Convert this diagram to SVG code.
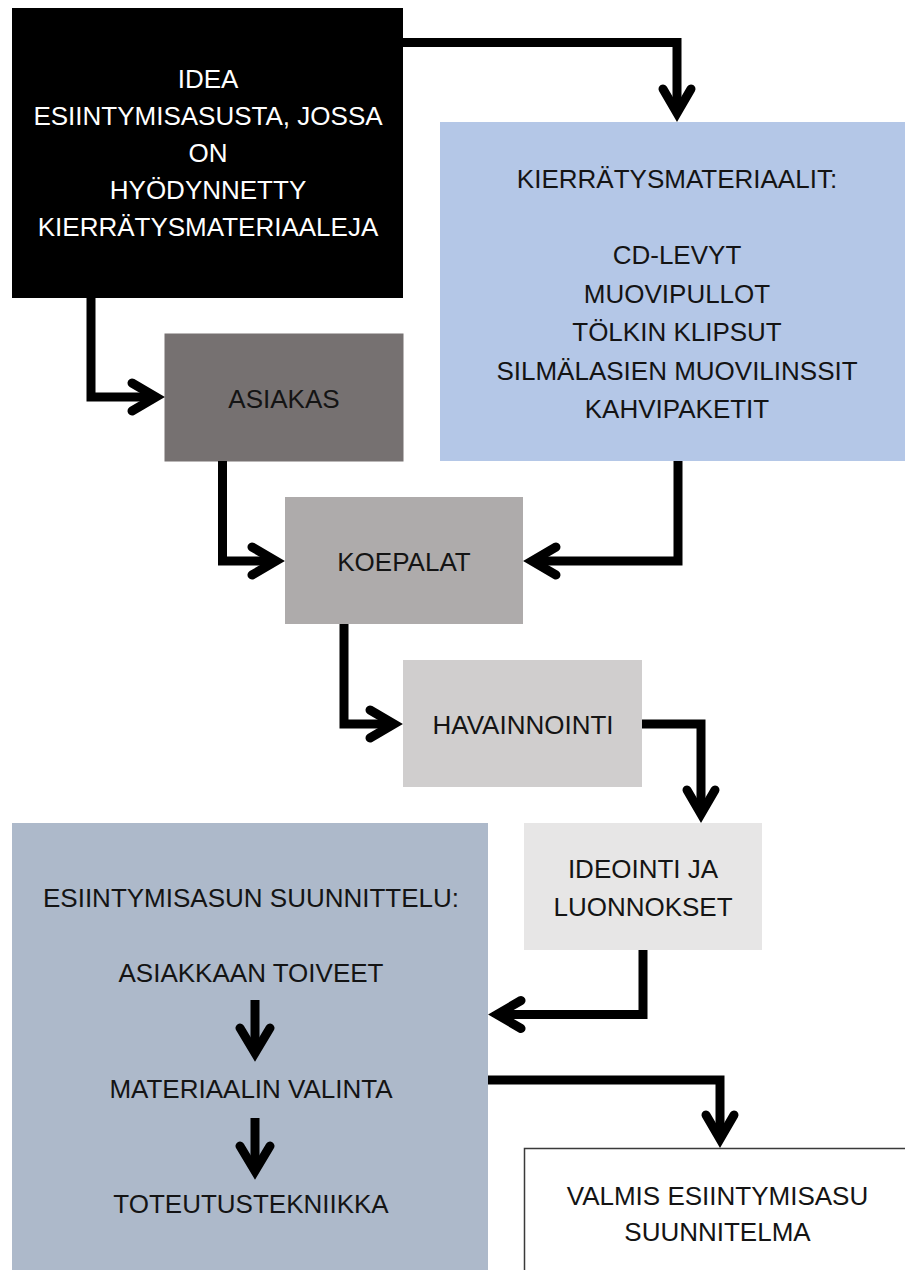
<svg xmlns="http://www.w3.org/2000/svg" width="905" height="1270" viewBox="0 0 905 1270">
  <style>
    .lbl { font-family: "Liberation Sans", Arial, sans-serif; font-size: 26px; fill: #141414; text-anchor: middle; }
    .wht { fill: #ffffff; }
    .conn { fill: none; stroke: #000; stroke-width: 9; stroke-linejoin: miter; stroke-linecap: butt; }
    .head { fill: none; stroke: #000; stroke-width: 9; stroke-linejoin: miter; stroke-miterlimit: 6; stroke-linecap: round; }
  </style>
  <rect width="905" height="1270" fill="#ffffff"/>

  <g id="node-idea">
    <rect x="12" y="8" width="391" height="290" fill="#000000"/>
    <text class="lbl wht" x="208" y="88">IDEA</text>
    <text class="lbl wht" x="208" y="124.5">ESIINTYMISASUSTA, JOSSA</text>
    <text class="lbl wht" x="208" y="162">ON</text>
    <text class="lbl wht" x="208" y="199">HYÖDYNNETTY</text>
    <text class="lbl wht" x="208" y="236">KIERRÄTYSMATERIAALEJA</text>
  </g>

  <g id="node-kierratys">
    <rect x="440" y="122" width="465" height="339" fill="#b4c7e7"/>
    <text class="lbl" x="677" y="188">KIERRÄTYSMATERIAALIT:</text>
    <text class="lbl" x="677" y="264">CD-LEVYT</text>
    <text class="lbl" x="677" y="303">MUOVIPULLOT</text>
    <text class="lbl" x="677" y="341">TÖLKIN KLIPSUT</text>
    <text class="lbl" x="677" y="380">SILMÄLASIEN MUOVILINSSIT</text>
    <text class="lbl" x="677" y="418">KAHVIPAKETIT</text>
  </g>

  <g id="node-asiakas">
    <rect x="164.5" y="333.5" width="239" height="128" fill="#767171"/>
    <text class="lbl" x="284" y="408">ASIAKAS</text>
  </g>

  <g id="node-koepalat">
    <rect x="285" y="497" width="238" height="127" fill="#aeabab"/>
    <text class="lbl" x="404" y="571">KOEPALAT</text>
  </g>

  <g id="node-havainnointi">
    <rect x="403" y="660" width="239" height="127" fill="#d0cece"/>
    <text class="lbl" x="523" y="734">HAVAINNOINTI</text>
  </g>

  <g id="node-ideointi">
    <rect x="524" y="823" width="238" height="127" fill="#e7e6e6"/>
    <text class="lbl" x="643" y="878">IDEOINTI JA</text>
    <text class="lbl" x="643" y="916">LUONNOKSET</text>
  </g>

  <g id="node-suunnittelu">
    <rect x="12" y="823" width="476" height="447" fill="#adb9ca"/>
    <text class="lbl" x="251" y="907">ESIINTYMISASUN SUUNNITTELU:</text>
    <text class="lbl" x="251" y="982">ASIAKKAAN TOIVEET</text>
    <text class="lbl" x="251" y="1098">MATERIAALIN VALINTA</text>
    <text class="lbl" x="251" y="1213">TOTEUTUSTEKNIIKKA</text>
    <path class="conn" d="M255 1000 V1053"/>
    <polyline class="head" points="240,1028 255,1053 270,1028"/>
    <path class="conn" d="M255 1118 V1171"/>
    <polyline class="head" points="240,1146 255,1171 270,1146"/>
  </g>

  <g id="node-valmis">
    <rect x="524.5" y="1148.5" width="400" height="140" fill="#ffffff" stroke="#3a3a3a" stroke-width="1.5"/>
    <text class="lbl" x="717.5" y="1205">VALMIS ESIINTYMISASU</text>
    <text class="lbl" x="717.5" y="1241">SUUNNITELMA</text>
  </g>

  <g id="connectors">
    <path class="conn" d="M403 42.5 H677 V113"/>
    <polyline class="head" points="663,89 677,113 691,89"/>

    <path class="conn" d="M91 298 V397 H156"/>
    <polyline class="head" points="132,383 156,397 132,411"/>

    <path class="conn" d="M222.5 461 V561 H276"/>
    <polyline class="head" points="252,547 276,561 252,575"/>

    <path class="conn" d="M678 461 V561 H532"/>
    <polyline class="head" points="556,547 532,561 556,575"/>

    <path class="conn" d="M344 624 V724 H394"/>
    <polyline class="head" points="370,710 394,724 370,738"/>

    <path class="conn" d="M642 724 H701 V814"/>
    <polyline class="head" points="687,790 701,814 715,790"/>

    <path class="conn" d="M643 950 V1014.5 H497"/>
    <polyline class="head" points="521,1000.5 497,1014.5 521,1028.5"/>

    <path class="conn" d="M488 1080 H720 V1139"/>
    <polyline class="head" points="706,1115 720,1139 734,1115"/>
  </g>
</svg>
